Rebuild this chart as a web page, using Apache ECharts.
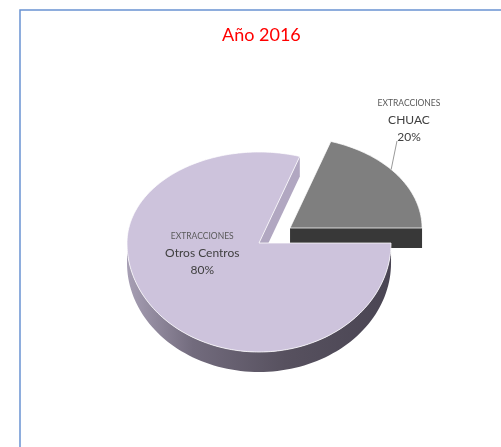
<!DOCTYPE html>
<html><head><meta charset="utf-8">
<script src="https://cdn.jsdelivr.net/npm/echarts@6/dist/echarts.min.js"></script>
<style>html,body{margin:0;padding:0;background:#fff}#c{width:501px;height:447px}</style>
</head><body><div id="c"></div>
<script>
// ---- data ----
const chartTitle = 'Año 2016';
const categories = ['CHUAC', 'Otros Centros'];
const labelPrefix = ['EXTRACCIONES', 'EXTRACCIONES'];
const values = [20, 80];

// ---- derived ----
const total = values.reduce((a, b) => a + b, 0);
const starts = [];
let acc = 0;
values.forEach(v => { starts.push(acc / total * 360); acc += v; });

// ---- styles / geometry ----
const RY_TOP = 0.91, RY_BOT = 1.09, DEPTH = 0.2;
const offsets = [[0.235, 0.15], [0, 0]];
const topColors = ['#7f7f7f', '#cdc3dc'];
const cutColors = ['#383838', '#b1a7c1'];
const labelAnchors = [[1.136, 1.225], [-0.43, -0.105]];
const leaderFrom = [[1.045, 1.02], null];
const leaderAngle = [40, null];

function pt(c, deg, dz) {
  const t = deg * Math.PI / 180;
  const s = Math.sin(t);
  return [c[0] + Math.cos(t), c[1] + s * (s >= 0 ? RY_TOP : RY_BOT) - (dz || 0)];
}

function renderItem(params, api) {
  const i = params.dataIndex;
  const a0 = starts[i];
  const a1 = a0 + values[i] / total * 360;
  const c = offsets[i];
  const P = d => api.coord(d);
  const children = [];
  // outer wall (front half only)
  const lo = Math.max(a0, 180), hi = Math.min(a1, 360);
  if (hi > lo) {
    const top = [], bot = [];
    for (let a = lo; a <= hi + 0.001; a += 2) {
      top.push(P(pt(c, a, 0)));
      bot.push(P(pt(c, a, DEPTH)));
    }
    children.push({
      type: 'polygon',
      shape: { points: top.concat(bot.reverse()) },
      style: {
        fill: new echarts.graphic.LinearGradient(0, 0, 1, 0, [
          { offset: 0, color: '#a79fb4' },
          { offset: 0.25, color: '#726b7d' },
          { offset: 0.6, color: '#57515f' },
          { offset: 1, color: '#4a4553' }
        ])
      }
    });
  }
  // cut faces
  const face = (a) => {
    const cc = [c[0], c[1]];
    const pts = [P(cc), P(pt(c, a, 0)), P(pt(c, a, DEPTH)), P([c[0], c[1] - DEPTH])];
    children.push({ type: 'polygon', shape: { points: pts }, style: { fill: cutColors[i] } });
  };
  if (Math.cos(a0 * Math.PI / 180) > 0.0001) face(a0);
  if (Math.cos(a1 * Math.PI / 180) < -0.0001) face(a1);
  // top face
  const topPts = [P(c)];
  for (let a = a0; a <= a1 + 0.001; a += 1) topPts.push(P(pt(c, a, 0)));
  children.push({
    type: 'polygon',
    shape: { points: topPts },
    style: { fill: topColors[i], stroke: 'rgba(255,255,255,0.75)', lineWidth: 1 }
  });
  // leader line
  if (leaderFrom[i]) {
    const p1 = P(leaderFrom[i]);
    const p2 = P(pt(c, leaderAngle[i], 0));
    children.push({
      type: 'line',
      shape: { x1: p1[0], y1: p1[1], x2: p2[0], y2: p2[1] },
      style: { stroke: '#7f7f7f', lineWidth: 0.8 }
    });
  }
  // label
  const la = P(labelAnchors[i]);
  const pct = Math.round(values[i] / total * 100) + '%';
  children.push({
    type: 'text',
    x: la[0], y: la[1],
    style: {
      text: '{a|' + labelPrefix[i] + '}\n{b|' + categories[i] + '}\n{b|' + pct + '}',
      align: 'center', verticalAlign: 'middle',
      fontFamily: 'Lato',
      rich: {
        a: { fontSize: 8.5, lineHeight: 16, fill: '#595959', color: '#595959', fontFamily: 'Lato', align: 'center' },
        b: { fontSize: 12, lineHeight: 17, fill: '#404040', color: '#404040', fontFamily: 'Lato', align: 'center' }
      }
    }
  });
  return { type: 'group', children };
}

const chart = echarts.init(document.getElementById('c'), null, { renderer: 'canvas' });
chart.setOption({
  animation: false,
  backgroundColor: '#ffffff',
  title: {
    text: chartTitle,
    left: 217, top: 21,
    textStyle: { color: '#ff0000', fontSize: 18, fontWeight: 'normal', fontFamily: 'Lato' }
  },
  graphic: [{
    type: 'rect', left: 17.5, top: 7.5, silent: true,
    shape: { width: 520, height: 470 },
    style: { fill: 'none', stroke: '#6a93d2', lineWidth: 1.5 }
  }],
  grid: { left: 0, right: 0, top: 0, bottom: 0 },
  xAxis: { type: 'value', min: -1.962, max: 1.833, show: false },
  yAxis: { type: 'value', min: -2.04, max: 2.43, show: false },
  series: [{
    type: 'custom',
    coordinateSystem: 'cartesian2d',
    renderItem: renderItem,
    clip: false,
    encode: { x: 0, y: 1 },
    data: values.map((v, i) => ({ name: categories[i], value: [0, 0, v] }))
  }]
});
</script>
</body></html>
